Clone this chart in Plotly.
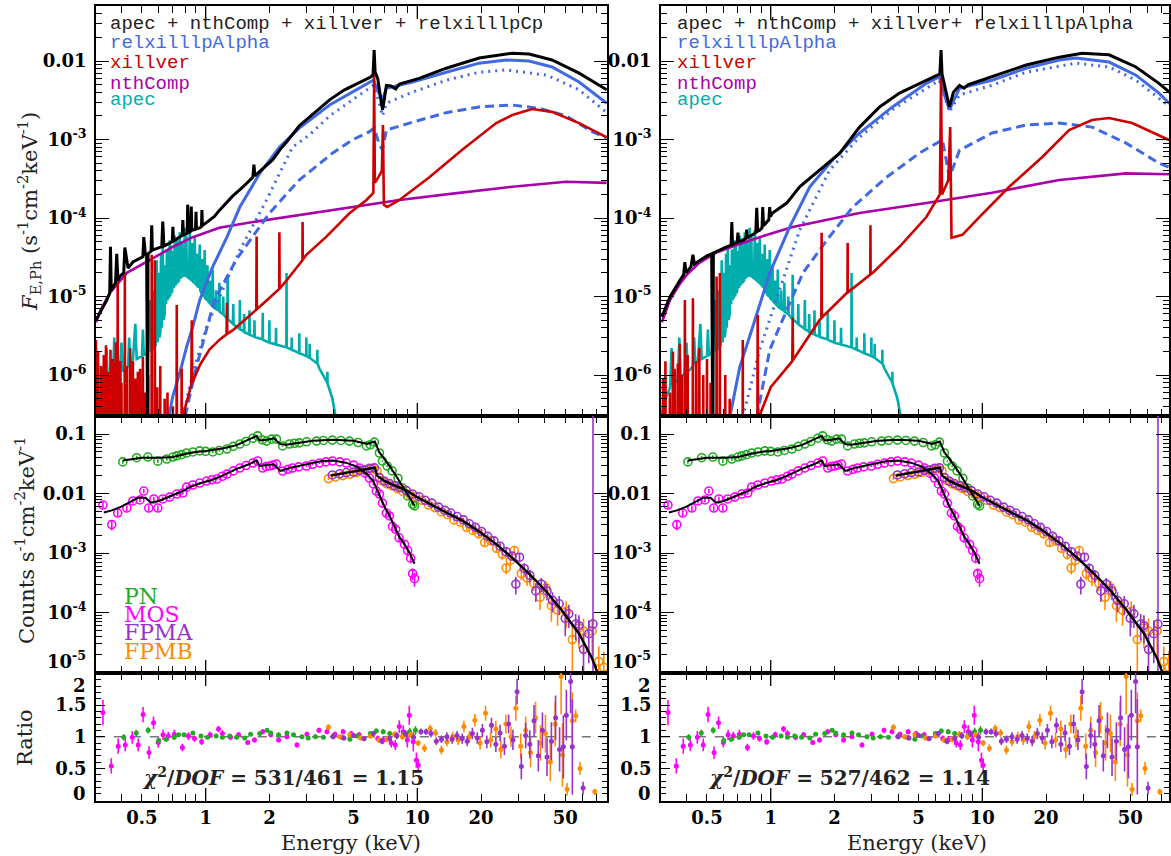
import plotly.graph_objects as go

# ------------------------------------------------------------------ data
# energies in keV, model fluxes in s^-1 cm^-2 keV^-1
apec = [(0.303, 2.9e-7), (0.32, 5.2e-7), (0.335, 7.0e-7), (0.340, 2.2e-6), (0.345, 7.5e-7), (0.364, 8.7e-7),
        (0.370, 3.0e-6), (0.375, 9.2e-7), (0.393, 1.06e-6), (0.400, 2.6e-6), (0.406, 1.1e-6), (0.430, 1.3e-6),
        (0.435, 3.0e-6), (0.440, 1.4e-6), (0.453, 1.55e-6), (0.465, 4.5e-6), (0.472, 1.6e-6), (0.50, 1.75e-6),
        (0.505, 3.8e-6), (0.51, 1.8e-6), (0.527, 1.9e-6), (0.544, 9.0e-6), (0.55, 2.0e-6), (0.56, 2.1e-6),
        (0.565, 1.2e-5), (0.57, 2.2e-6), (0.58, 2.4e-6), (0.587, 2.9e-5), (0.593, 2.6e-6), (0.60, 2.0e-5),
        (0.605, 3.0e-6), (0.611, 3.5e-6), (0.615, 3.5e-5), (0.62, 4.0e-6), (0.627, 4.2e-5), (0.633, 5.0e-6),
        (0.64, 6.0e-6), (0.645, 2.5e-5), (0.65, 8.0e-6), (0.656, 4.0e-5), (0.661, 9.0e-6), (0.665, 3.0e-5),
        (0.67, 9.5e-6), (0.676, 5.2e-5), (0.68, 1.0e-5), (0.685, 4.5e-5), (0.69, 1.1e-5), (0.695, 1.2e-5),
        (0.70, 3.8e-5), (0.705, 1.3e-5), (0.71, 1.35e-5), (0.714, 6.0e-5), (0.72, 1.4e-5), (0.725, 1.45e-5),
        (0.73, 5.5e-5), (0.735, 1.5e-5), (0.748, 1.6e-5), (0.754, 6.6e-5), (0.76, 1.7e-5), (0.765, 1.75e-5),
        (0.77, 5.0e-5), (0.775, 1.8e-5), (0.79, 1.9e-5), (0.796, 7.5e-5), (0.80, 1.85e-5), (0.805, 1.8e-5),
        (0.81, 6.0e-5), (0.815, 1.8e-5), (0.835, 1.7e-5), (0.841, 7.0e-5), (0.847, 1.65e-5), (0.86, 1.6e-5),
        (0.865, 4.8e-5), (0.87, 1.55e-5), (0.882, 1.5e-5), (0.888, 5.6e-5), (0.894, 1.45e-5), (0.905, 1.4e-5),
        (0.91, 3.5e-5), (0.915, 1.35e-5), (0.931, 1.3e-5), (0.937, 4.6e-5), (0.943, 1.2e-5), (0.955, 1.1e-5),
        (0.96, 3.0e-5), (0.965, 1.05e-5), (0.983, 1.0e-5), (0.989, 3.9e-5), (0.995, 9.5e-6), (1.015, 9.0e-6),
        (1.02, 2.5e-5), (1.025, 8.8e-6), (1.045, 8.2e-6), (1.05, 1.6e-5), (1.055, 8.0e-6), (1.075, 7.6e-6),
        (1.08, 2.2e-5), (1.085, 7.4e-6), (1.115, 7.0e-6), (1.12, 1.2e-5), (1.125, 6.9e-6), (1.155, 6.6e-6),
        (1.16, 1.5e-5), (1.165, 6.4e-6), (1.205, 6.0e-6), (1.21, 1.0e-5), (1.215, 5.9e-6), (1.265, 5.2e-6),
        (1.27, 1.9e-5), (1.275, 5.1e-6), (1.345, 4.5e-6), (1.35, 8.0e-6), (1.355, 4.4e-6), (1.445, 3.9e-6),
        (1.45, 9.0e-6), (1.455, 3.8e-6), (1.515, 3.6e-6), (1.52, 6.0e-6), (1.525, 3.5e-6), (1.605, 3.3e-6),
        (1.61, 6.7e-6), (1.615, 3.25e-6), (1.695, 3.1e-6), (1.70, 5.0e-6), (1.705, 3.05e-6), (1.855, 2.85e-6),
        (1.86, 6.2e-6), (1.865, 2.8e-6), (1.995, 2.6e-6), (2.0, 5.0e-6), (2.005, 2.6e-6), (2.145, 2.45e-6),
        (2.15, 4.0e-6), (2.155, 2.45e-6), (2.405, 2.25e-6), (2.41, 2.0e-5), (2.415, 2.25e-6), (2.545, 2.1e-6),
        (2.55, 3.0e-6), (2.555, 2.1e-6), (2.765, 1.9e-6), (2.77, 3.4e-6), (2.775, 1.9e-6), (2.985, 1.75e-6),
        (2.99, 3.0e-6), (2.995, 1.75e-6), (3.095, 1.65e-6), (3.1, 2.5e-6), (3.105, 1.65e-6), (3.365, 1.4e-6),
        (3.37, 2.1e-6), (3.375, 1.4e-6), (3.45, 1.2e-6), (3.70, 8.5e-7), (3.755, 8.0e-7), (3.76, 1.1e-6),
        (3.765, 7.8e-7), (3.97, 5.0e-7), (4.14, 2.9e-7), (4.3, 1.5e-7)]

black_left = [(0.303, 5.0e-6), (0.32, 6.5e-6), (0.341, 9.0e-6), (0.352, 1.1e-5), (0.355, 4.3e-5), (0.358, 1.2e-5),
              (0.375, 1.5e-5), (0.38, 3.5e-5), (0.385, 1.6e-5), (0.393, 1.8e-5), (0.41, 2.0e-5), (0.415, 4.2e-5),
              (0.43, 2.3e-5), (0.453, 2.75e-5), (0.489, 3.1e-5), (0.505, 3.2e-5), (0.51, 5.7e-5), (0.52, 3.3e-5),
              (0.526, 3.4e-5), (0.528, 1e-7), (0.532, 1e-7), (0.534, 3.5e-5), (0.544, 3.7e-5), (0.552, 3.8e-5),
              (0.556, 8.1e-5), (0.56, 3.9e-5), (0.59, 4.1e-5), (0.62, 4.3e-5), (0.627, 9.0e-5), (0.635, 4.4e-5),
              (0.676, 4.8e-5), (0.695, 5.0e-5), (0.70, 7.7e-5), (0.705, 5.1e-5), (0.75, 5.7e-5), (0.775, 6.0e-5),
              (0.78, 9.4e-5), (0.785, 6.1e-5), (0.81, 6.3e-5), (0.818, 6.4e-5), (0.822, 1.48e-4), (0.83, 6.5e-5),
              (0.85, 6.8e-5), (0.855, 1.4e-4), (0.86, 7.0e-5), (0.87, 7.1e-5), (0.895, 7.2e-5), (0.90, 1.2e-4),
              (0.905, 7.3e-5), (0.937, 7.5e-5), (0.955, 7.8e-5), (0.96, 1.26e-4), (0.965, 8.0e-5), (1.0, 8.6e-5),
              (1.04, 9.4e-5), (1.1, 1.05e-4), (1.16, 1.25e-4), (1.25, 1.55e-4), (1.34, 1.9e-4), (1.5, 2.5e-4),
              (1.67, 3.3e-4), (1.69, 4.8e-4), (1.71, 3.45e-4), (1.85, 4.2e-4), (2.07, 5.5e-4), (2.25, 7.5e-4),
              (2.41, 9.3e-4), (2.77, 1.5e-3), (3.26, 2.2e-3), (3.85, 3.2e-3), (4.53, 4.3e-3), (5.33, 5.4e-3),
              (6.05, 6.3e-3), (6.18, 6.8e-3), (6.25, 1.38e-2), (6.32, 7.2e-3), (6.5, 6.0e-3), (6.75, 3.0e-3),
              (6.85, 2.4e-3), (7.0, 3.4e-3), (7.14, 4.9e-3), (7.5, 4.8e-3), (7.9, 4.4e-3), (8.23, 5.1e-3),
              (10.2, 6.0e-3), (13.7, 8.1e-3), (19.6, 1.09e-2), (28.1, 1.26e-2), (33.7, 1.23e-2), (43.3, 1.03e-2),
              (58.1, 7.0e-3), (78.5, 4.3e-3)]

red_left = [(0.302, 1e-7), (0.303, 2.8e-6), (0.304, 1e-7), (0.309, 1e-7), (0.31, 2.0e-6), (0.311, 1e-7),
            (0.319, 1e-7), (0.32, 1.3e-6), (0.321, 1e-7), (0.324, 1e-7), (0.325, 1.2e-6), (0.326, 1e-7),
            (0.329, 1e-7), (0.33, 1.8e-6), (0.331, 1e-7), (0.337, 1e-7), (0.338, 2.4e-6), (0.339, 1e-7),
            (0.344, 1e-7), (0.345, 1.1e-6), (0.346, 1e-7), (0.354, 1e-7), (0.355, 2.1e-6), (0.356, 1e-7),
            (0.363, 1e-7), (0.364, 1.6e-6), (0.365, 1e-7), (0.369, 1e-7), (0.37, 1.4e-6), (0.371, 1e-7),
            (0.375, 1e-7), (0.376, 2.6e-6), (0.377, 1e-7), (0.383, 1e-7), (0.384, 2.0e-5), (0.385, 1e-7),
            (0.394, 1e-7), (0.395, 1.5e-6), (0.396, 1e-7), (0.399, 1e-7), (0.40, 8e-7), (0.401, 1e-7),
            (0.414, 1e-7), (0.415, 2.0e-5), (0.416, 1e-7), (0.424, 1e-7), (0.425, 1.3e-6), (0.426, 1e-7),
            (0.439, 1e-7), (0.44, 2.2e-6), (0.441, 1e-7), (0.452, 1e-7), (0.453, 1.5e-6), (0.454, 1e-7),
            (0.464, 1e-7), (0.465, 9e-7), (0.466, 1e-7), (0.477, 1e-7), (0.478, 1.1e-6), (0.479, 1e-7),
            (0.489, 1e-7), (0.49, 1.2e-6), (0.491, 1e-7), (0.504, 1e-7), (0.505, 1.7e-6), (0.506, 1e-7),
            (0.519, 1e-7), (0.52, 6e-7), (0.521, 1e-7), (0.534, 1e-7), (0.535, 1.0e-6), (0.536, 1e-7),
            (0.555, 1e-7), (0.556, 3.4e-5), (0.557, 1e-7), (0.574, 1e-7), (0.575, 2.9e-5), (0.576, 1e-7),
            (0.589, 1e-7), (0.59, 7e-7), (0.591, 1e-7), (0.609, 1e-7), (0.61, 1.3e-6), (0.611, 1e-7),
            (0.639, 1e-7), (0.64, 5e-7), (0.641, 1e-7), (0.659, 1e-7), (0.66, 6e-7), (0.661, 1e-7),
            (0.699, 1e-7), (0.70, 4e-7), (0.701, 1e-7), (0.728, 1e-7), (0.73, 7.8e-6), (0.732, 1e-7),
            (0.768, 1e-7), (0.77, 1.2e-6), (0.772, 1e-7), (0.78, 3.0e-7), (0.84, 6.5e-7), (0.855, 7.5e-7),
            (0.86, 5.0e-6), (0.865, 8e-7), (0.94, 1.35e-6), (1.04, 2.1e-6), (1.16, 2.8e-6), (1.255, 3.3e-6),
            (1.26, 8.3e-6), (1.265, 3.35e-6), (1.34, 3.7e-6), (1.67, 6.2e-6), (1.735, 6.8e-6), (1.74, 5.8e-5),
            (1.745, 6.9e-6), (1.94, 8.9e-6), (2.225, 1.25e-5), (2.23, 6.6e-5), (2.235, 1.26e-5), (2.41, 1.6e-5),
            (2.865, 2.9e-5), (2.87, 8.9e-5), (2.875, 2.95e-5), (2.99, 3.4e-5), (3.72, 5.8e-5), (4.78, 1.15e-4),
            (5.75, 1.7e-4), (6.1, 2.0e-4), (6.2, 2.1e-4), (6.25, 6.6e-3), (6.3, 2.8e-4), (6.5, 3.2e-4),
            (6.8, 4.0e-4), (6.88, 1.53e-3), (6.95, 1.47e-4), (7.2, 1.38e-4), (8.23, 1.7e-4), (11.4, 3.3e-4),
            (16.3, 7.4e-4), (23.6, 1.62e-3), (28.1, 2.05e-3), (34.9, 2.45e-3), (43.3, 2.25e-3), (58.1, 1.62e-3),
            (78.5, 1.07e-3)]

nthcomp_left = [(0.303, 4.7e-6), (0.32, 6.8e-6), (0.352, 1.1e-5), (0.424, 2.0e-5), (0.544, 2.9e-5), (0.699, 4.3e-5),
                (0.869, 5.7e-5), (1.16, 7.5e-5), (1.67, 8.9e-5), (2.77, 1.1e-4), (4.78, 1.38e-4), (8.23, 1.7e-4),
                (13.7, 2.0e-4), (28.1, 2.5e-4), (50.5, 2.9e-4), (78.5, 2.8e-4)]

relx_left = [(0.66, 2.5e-7), (0.70, 5.4e-7), (0.754, 1.06e-6), (0.813, 2.3e-6), (0.869, 4.1e-6), (0.937, 9.0e-6),
             (1.08, 2.4e-5), (1.26, 5.7e-5), (1.45, 1.38e-4), (1.80, 3.7e-4), (2.23, 8.0e-4), (2.77, 1.4e-3),
             (3.85, 2.75e-3), (5.33, 4.5e-3), (6.2, 5.7e-3), (6.5, 4.2e-3), (6.84, 3.2e-3), (7.14, 4.5e-3),
             (8.23, 4.9e-3), (9.47, 5.4e-3), (13.7, 7.2e-3), (19.6, 9.4e-3), (26.3, 1.03e-2), (33.7, 1.0e-2),
             (43.3, 8.4e-3), (58.1, 5.4e-3), (78.5, 2.9e-3)]

relx_dot_left = [(0.78, 3e-7), (0.87, 1.06e-6), (1.01, 4.1e-6), (1.26, 1.6e-5), (1.45, 3.9e-5), (1.94, 1.7e-4),
                 (2.57, 8.0e-4), (3.1, 1.15e-3), (3.85, 2.0e-3), (5.33, 3.7e-3), (6.2, 4.9e-3), (6.55, 3.2e-3),
                 (6.84, 2.0e-3), (7.14, 2.9e-3), (8.23, 3.4e-3), (9.47, 4.0e-3), (13.7, 5.7e-3), (19.6, 7.2e-3),
                 (26.3, 7.7e-3), (41.0, 6.6e-3), (58.1, 4.3e-3), (78.5, 2.2e-3)]

relx_dash_left = [(0.80, 3e-7), (0.90, 1.2e-6), (1.0, 3.5e-6), (1.1, 9.0e-6), (1.4, 3.0e-5), (2.0, 1.15e-4),
                  (2.75, 3.0e-4), (3.97, 6.7e-4), (4.94, 9.9e-4), (5.94, 1.26e-3), (6.25, 1.4e-3), (6.62, 8.5e-4),
                  (6.84, 7.4e-4), (7.14, 1.32e-3), (9.47, 1.66e-3), (13.7, 2.2e-3), (19.6, 2.6e-3), (28.1, 2.75e-3),
                  (37.6, 2.5e-3), (50.5, 2.0e-3), (66.9, 1.26e-3), (78.5, 1.05e-3)]

black_right = [(0.306, 5.5e-6), (0.334, 9.9e-6), (0.372, 1.6e-5), (0.388, 1.9e-5), (0.393, 2.75e-5), (0.398, 2.0e-5),
               (0.42, 2.4e-5), (0.429, 3.4e-5), (0.436, 2.6e-5), (0.462, 2.9e-5), (0.50, 3.3e-5), (0.526, 3.5e-5),
               (0.529, 1e-7), (0.533, 1e-7), (0.536, 3.6e-5), (0.57, 3.9e-5), (0.619, 4.3e-5), (0.65, 4.5e-5),
               (0.655, 8.9e-5), (0.66, 4.6e-5), (0.695, 4.9e-5), (0.70, 6.5e-5), (0.705, 5.0e-5), (0.738, 5.2e-5),
               (0.765, 5.5e-5), (0.77, 7.1e-5), (0.775, 5.6e-5), (0.85, 6.5e-5), (0.859, 1.35e-4), (0.868, 6.8e-5),
               (0.887, 7.0e-5), (0.91, 7.5e-5), (0.917, 1.38e-4), (0.925, 8.0e-5), (0.98, 9.5e-5), (0.989, 1.38e-4),
               (0.998, 1.05e-4), (1.02, 1.16e-4), (1.19, 1.55e-4), (1.37, 2.5e-4), (1.70, 4.1e-4), (2.12, 6.7e-4),
               (2.63, 1.44e-3), (3.27, 2.6e-3), (4.06, 3.9e-3), (5.04, 5.2e-3), (6.13, 6.6e-3), (6.3, 6.8e-3),
               (6.38, 1.38e-2), (6.45, 6.8e-3), (6.99, 2.6e-3), (7.3, 4.0e-3), (7.8, 4.9e-3), (8.2, 4.5e-3),
               (8.6, 5.0e-3), (9.37, 5.4e-3), (11.1, 6.3e-3), (16.1, 8.9e-3), (23.1, 1.12e-2), (29.6, 1.26e-2),
               (39.7, 1.2e-2), (53.2, 8.4e-3), (68.3, 5.2e-3), (78.5, 3.8e-3)]

red_right = [(0.309, 1e-7), (0.31, 9e-7), (0.311, 1e-7), (0.317, 1e-7), (0.318, 1.5e-6), (0.319, 1e-7),
             (0.333, 1e-7), (0.334, 6e-7), (0.335, 1e-7), (0.344, 1e-7), (0.345, 2.0e-6), (0.346, 1e-7),
             (0.351, 1e-7), (0.352, 1.2e-6), (0.353, 1e-7), (0.363, 1e-7), (0.364, 1.4e-6), (0.365, 1e-7),
             (0.371, 1e-7), (0.372, 2.5e-6), (0.373, 1e-7), (0.379, 1e-7), (0.38, 1.0e-6), (0.381, 1e-7),
             (0.392, 1e-7), (0.393, 9e-6), (0.394, 1e-7), (0.404, 1e-7), (0.405, 1.8e-6), (0.406, 1e-7),
             (0.428, 1e-7), (0.429, 9.5e-6), (0.430, 1e-7), (0.444, 1e-7), (0.445, 1.5e-6), (0.446, 1e-7),
             (0.459, 1e-7), (0.46, 2.2e-6), (0.461, 1e-7), (0.479, 1e-7), (0.48, 1.0e-6), (0.481, 1e-7),
             (0.499, 1e-7), (0.50, 1.6e-6), (0.501, 1e-7), (0.519, 1e-7), (0.52, 8e-7), (0.521, 1e-7),
             (0.554, 1e-7), (0.555, 1.8e-5), (0.556, 1e-7), (0.574, 1e-7), (0.575, 2.0e-5), (0.576, 1e-7),
             (0.609, 1e-7), (0.61, 1.0e-6), (0.611, 1e-7), (0.639, 1e-7), (0.64, 5e-7), (0.641, 1e-7),
             (0.737, 1e-7), (0.738, 2.8e-6), (0.739, 1e-7), (0.85, 2.0e-7), (0.865, 2.6e-7), (0.868, 5.8e-6),
             (0.871, 2.7e-7), (1.0, 7e-7), (1.265, 1.5e-6), (1.27, 5.4e-6), (1.275, 1.55e-6), (1.70, 5.0e-6),
             (1.735, 5.3e-6), (1.74, 6.5e-5), (1.745, 5.4e-6), (2.28, 1.1e-5), (2.305, 1.12e-5), (2.31, 4.8e-5),
             (2.315, 1.13e-5), (2.955, 1.9e-5), (2.96, 8.1e-5), (2.965, 1.92e-5), (3.03, 2.0e-5), (4.06, 4.3e-5),
             (5.44, 1.03e-4), (5.94, 1.55e-4), (6.3, 2.0e-4), (6.38, 6.1e-3), (6.45, 2.0e-4), (6.9, 3.0e-4),
             (7.05, 1.44e-3), (7.15, 5.6e-5), (8.05, 6.1e-5), (9.68, 1.03e-4), (13.4, 2.5e-4), (19.2, 6.0e-4),
             (25.7, 1.32e-3), (33.0, 1.77e-3), (39.7, 1.88e-3), (51.0, 1.62e-3), (78.5, 9.5e-4)]

nthcomp_right = [(0.306, 4.7e-6), (0.334, 9.0e-6), (0.372, 1.45e-5), (0.402, 1.9e-5), (0.462, 2.7e-5), (0.55, 3.6e-5),
                 (0.70, 4.6e-5), (0.887, 5.7e-5), (1.27, 7.7e-5), (2.63, 1.16e-4), (5.44, 1.55e-4), (11.1, 2.1e-4),
                 (23.1, 3.05e-4), (47.8, 3.7e-4), (78.5, 3.6e-4)]

relx_right = [(0.641, 2.9e-7), (0.714, 1.26e-6), (0.822, 4.1e-6), (0.99, 2.0e-5), (1.23, 7.7e-5), (1.53, 2.5e-4),
              (1.96, 5.5e-4), (2.63, 1.21e-3), (3.76, 2.6e-3), (5.44, 5.2e-3), (6.27, 6.3e-3), (6.6, 3.8e-3),
              (6.99, 2.4e-3), (7.8, 4.5e-3), (11.1, 5.7e-3), (16.1, 8.1e-3), (23.1, 1.03e-2), (27.7, 1.09e-2),
              (39.7, 9.7e-3), (53.2, 6.6e-3), (68.3, 3.9e-3), (78.5, 2.7e-3)]

relx_dot_right = [(0.738, 2.9e-7), (0.887, 2.1e-6), (1.10, 1.2e-5), (1.37, 7.0e-5), (1.90, 4.1e-4), (2.63, 1.07e-3),
                  (3.76, 2.4e-3), (5.44, 4.5e-3), (6.27, 5.7e-3), (6.99, 2.25e-3), (7.8, 3.7e-3), (11.1, 4.9e-3),
                  (16.1, 7.2e-3), (27.7, 9.4e-3), (39.7, 8.4e-3), (53.2, 5.7e-3), (78.5, 2.5e-3)]

relx_dash_right = [(0.859, 2.9e-7), (0.99, 2.1e-6), (1.19, 6.7e-6), (1.42, 2.0e-5), (1.84, 5.2e-5), (2.44, 1.38e-4),
                   (3.52, 3.3e-4), (5.04, 6.7e-4), (6.48, 9.9e-4), (6.99, 3.3e-4), (7.8, 7.3e-4), (11.1, 1.21e-3),
                   (16.1, 1.53e-3), (23.1, 1.62e-3), (33.0, 1.44e-3), (47.8, 9.0e-4), (68.3, 5.0e-4), (78.5, 4.3e-4)]

# counts spectra: (E, counts s^-1 cm^-2 keV^-1, error)
pn_counts = [(0.406, 0.034, 0.0025), (0.472, 0.040, 0.003), (0.533, 0.041, 0.003), (0.594, 0.035, 0.0025),
             (0.655, 0.038, 0.0025), (0.70, 0.041, 0.002), (0.73, 0.043, 0.002), (0.77, 0.045, 0.002),
             (0.813, 0.048, 0.002), (0.87, 0.050, 0.002), (0.937, 0.052, 0.002), (1.0, 0.051, 0.002),
             (1.08, 0.050, 0.002), (1.16, 0.053, 0.002), (1.26, 0.056, 0.002), (1.35, 0.062, 0.002),
             (1.45, 0.068, 0.002), (1.55, 0.075, 0.002), (1.67, 0.085, 0.002), (1.76, 0.093, 0.002),
             (1.85, 0.080, 0.002), (1.94, 0.076, 0.002), (2.05, 0.082, 0.002), (2.16, 0.082, 0.002),
             (2.31, 0.063, 0.002), (2.49, 0.068, 0.002), (2.63, 0.070, 0.002), (2.77, 0.071, 0.002),
             (3.0, 0.074, 0.002), (3.34, 0.076, 0.002), (3.6, 0.078, 0.002), (3.97, 0.079, 0.002),
             (4.35, 0.078, 0.002), (4.78, 0.076, 0.002), (5.25, 0.072, 0.002), (5.75, 0.063, 0.002),
             (6.0, 0.066, 0.002), (6.27, 0.073, 0.002), (6.62, 0.048, 0.0015), (6.84, 0.035, 0.0012),
             (7.2, 0.029, 0.001), (7.6, 0.024, 0.001), (8.1, 0.018, 0.0008), (8.5, 0.0124, 0.0006),
             (9.0, 0.0091, 0.0005), (9.5, 0.0066, 0.0004), (9.7, 0.0062, 0.0004)]

mos_counts = [(0.327, 0.0064, 0.0008), (0.36, 0.0030, 0.0006), (0.384, 0.0047, 0.0006), (0.424, 0.0057, 0.0006),
              (0.453, 0.0075, 0.0007), (0.489, 0.0078, 0.0007), (0.51, 0.011, 0.0009), (0.538, 0.0057, 0.0006),
              (0.569, 0.0081, 0.0007), (0.594, 0.0057, 0.0006), (0.627, 0.0081, 0.0007), (0.676, 0.0087, 0.0007),
              (0.73, 0.0098, 0.0007), (0.779, 0.0102, 0.0007), (0.813, 0.0128, 0.0008), (0.869, 0.0139, 0.0008),
              (0.937, 0.0150, 0.0008), (1.01, 0.0162, 0.0008), (1.07, 0.0170, 0.0008), (1.13, 0.0175, 0.0008),
              (1.20, 0.0195, 0.0009), (1.26, 0.0212, 0.0009), (1.35, 0.0240, 0.001), (1.45, 0.0268, 0.001),
              (1.55, 0.0295, 0.001), (1.67, 0.0325, 0.001), (1.76, 0.0352, 0.0012), (1.86, 0.0268, 0.001),
              (1.93, 0.0285, 0.001), (2.0, 0.029, 0.001), (2.08, 0.030, 0.001), (2.16, 0.0313, 0.001),
              (2.31, 0.0239, 0.001), (2.45, 0.0255, 0.001), (2.57, 0.0268, 0.001), (2.75, 0.028, 0.001),
              (2.99, 0.029, 0.001), (3.2, 0.031, 0.001), (3.45, 0.0325, 0.0012), (3.7, 0.034, 0.0012),
              (3.97, 0.0352, 0.0012), (4.3, 0.034, 0.0012), (4.62, 0.0325, 0.0012), (5.0, 0.030, 0.0012),
              (5.33, 0.0268, 0.0012), (5.65, 0.022, 0.001), (5.94, 0.0182, 0.001), (6.2, 0.0145, 0.0009),
              (6.4, 0.011, 0.0008), (6.62, 0.0098, 0.0007), (6.84, 0.0069, 0.0006), (7.14, 0.0047, 0.0005),
              (7.38, 0.0042, 0.0004), (7.63, 0.0028, 0.0003), (7.9, 0.0025, 0.0003), (8.2, 0.0018, 0.0003),
              (8.7, 0.0014, 0.0002), (9.0, 0.0011, 0.0002), (9.3, 0.00082, 0.00015), (9.5, 0.00045, 0.0001),
              (9.7, 0.00037, 0.0001)]

fpma_counts = [(3.97, 0.0205, 0.001), (4.3, 0.0215, 0.001), (4.62, 0.0225, 0.001), (5.0, 0.023, 0.001),
               (5.33, 0.0245, 0.001), (5.64, 0.025, 0.001), (5.94, 0.0265, 0.0012), (6.27, 0.027, 0.0012),
               (6.62, 0.0185, 0.001), (7.0, 0.016, 0.0009), (7.38, 0.0147, 0.0008), (7.8, 0.0135, 0.0008),
               (8.23, 0.0126, 0.0007), (8.87, 0.0112, 0.0006), (9.5, 0.0098, 0.0006), (10.2, 0.0088, 0.0005),
               (10.9, 0.0077, 0.0005), (11.7, 0.0069, 0.0004), (12.6, 0.0059, 0.0004), (13.5, 0.0052, 0.0004),
               (14.4, 0.0047, 0.0004), (15.4, 0.0041, 0.0003), (16.5, 0.0036, 0.0003), (17.6, 0.0031, 0.0003),
               (18.8, 0.0027, 0.0003), (20.1, 0.0023, 0.00025), (21.5, 0.0019, 0.0002), (23.0, 0.0016, 0.0002),
               (24.6, 0.0013, 0.0002), (26.3, 0.00105, 0.00018), (28.0, 0.00089, 0.00015), (29.2, 0.00030, 0.0001),
               (30.4, 0.00085, 0.00015), (32.0, 0.00055, 0.00012), (34.0, 0.00042, 0.0001), (36.3, 0.00023, 0.00008),
               (38.5, 0.00030, 0.00008), (41.0, 0.00023, 0.00007), (43.5, 0.00016, 0.00006), (46.8, 0.00014, 0.00005),
               (50.0, 8.0e-5, 0.00004), (52.0, 9.5e-5, 0.00004), (56.0, 6.4e-5, 0.00003), (58.0, 6.0e-5, 0.00003),
               (61.0, 2.4e-5, 0.00002), (64.6, 4.4e-5, 0.00003), (67.6, 6.4e-5, 1.0)]

fpmb_counts = [(3.8, 0.0178, 0.001), (4.1, 0.019, 0.001), (4.45, 0.020, 0.001), (4.8, 0.021, 0.001),
               (5.15, 0.0225, 0.001), (5.5, 0.0235, 0.001), (5.8, 0.025, 0.0012), (6.1, 0.0262, 0.0012),
               (6.45, 0.024, 0.0012), (6.8, 0.0165, 0.001), (7.2, 0.0145, 0.0009), (7.6, 0.0135, 0.0008),
               (8.05, 0.0121, 0.0007), (8.55, 0.0108, 0.0006), (9.2, 0.0097, 0.0006), (9.8, 0.0089, 0.0005),
               (10.5, 0.0077, 0.0005), (11.3, 0.0064, 0.0004), (12.1, 0.0058, 0.0004), (13.0, 0.0049, 0.0004),
               (13.9, 0.0044, 0.0004), (14.9, 0.0036, 0.0003), (16.0, 0.0033, 0.0003), (17.1, 0.0027, 0.0003),
               (18.3, 0.0024, 0.0003), (19.5, 0.0021, 0.00025), (20.8, 0.0015, 0.0002), (22.2, 0.0016, 0.0002),
               (23.7, 0.0012, 0.0002), (25.2, 0.00095, 0.00018), (26.3, 0.00056, 0.00012), (27.5, 0.00075, 0.00015),
               (28.7, 0.0011, 0.0002), (31.0, 0.00045, 0.0001), (33.0, 0.00038, 0.0001), (35.5, 0.00031, 0.00008),
               (38.0, 0.00018, 0.00007), (40.5, 0.00026, 0.00008), (43.0, 0.00013, 0.00006), (46.0, 0.00011, 0.00005),
               (50.5, 0.000105, 0.00005), (54.0, 3.5e-5, 0.00003), (58.0, 5.5e-5, 0.00003), (61.0, 4.9e-5, 0.00003),
               (67.0, 4.9e-5, 0.00003), (72.0, 1.5e-5, 0.000012), (76.0, 1.2e-5, 0.00001)]

pn_model = [(0.406, 0.036), (0.45, 0.038), (0.50, 0.040), (0.60, 0.040), (0.70, 0.041), (0.80, 0.046), (0.90, 0.050),
            (1.0, 0.052), (1.2, 0.057), (1.4, 0.065), (1.6, 0.080), (1.74, 0.093), (1.80, 0.078), (1.95, 0.080),
            (2.10, 0.085), (2.25, 0.068), (2.4, 0.066), (2.7, 0.071), (3.2, 0.077), (4.0, 0.080), (5.0, 0.077),
            (5.8, 0.068), (6.3, 0.075), (6.6, 0.050), (7.0, 0.038), (7.5, 0.027), (8.0, 0.019), (8.5, 0.013),
            (9.0, 0.0095), (9.7, 0.0063)]

mos_model = [(0.33, 0.0048), (0.36, 0.0052), (0.40, 0.0060), (0.45, 0.0075), (0.48, 0.0085), (0.52, 0.0085),
             (0.55, 0.0070), (0.60, 0.0075), (0.65, 0.0085), (0.70, 0.0095), (0.78, 0.011), (0.85, 0.013),
             (0.95, 0.0150), (1.05, 0.0165), (1.2, 0.020), (1.4, 0.026), (1.6, 0.031), (1.74, 0.036), (1.80, 0.029),
             (1.95, 0.030), (2.10, 0.031), (2.25, 0.024), (2.5, 0.027), (3.0, 0.031), (3.5, 0.035), (4.0, 0.036),
             (4.6, 0.033), (5.2, 0.028), (5.8, 0.021), (6.2, 0.016), (6.6, 0.0098), (7.0, 0.0060), (7.4, 0.0042),
             (7.8, 0.0027), (8.2, 0.0019), (8.7, 0.0014), (9.2, 0.0010), (9.7, 0.00066)]

fpm_model = [(3.9, 0.0200), (4.5, 0.0220), (5.0, 0.0235), (5.5, 0.0250), (6.0, 0.0262), (6.3, 0.0272), (6.45, 0.0200),
             (7.0, 0.0163), (7.5, 0.0145), (8.2, 0.0127), (9.0, 0.0110), (9.9, 0.0088), (11.4, 0.0067), (13.7, 0.0048),
             (16.3, 0.0035), (19.6, 0.0023), (23.6, 0.00141), (28.1, 0.00083), (33.7, 0.00045), (40.5, 0.00023),
             (48.3, 0.000107), (58.1, 4.4e-5), (66.9, 1.7e-5), (72.0, 8.5e-6)]

# data/model ratios: (E, ratio, error)
pn_ratio = [(0.41, 0.99, 0.05), (0.47, 1.06, 0.05), (0.535, 1.1, 0.05), (0.60, 0.94, 0.04), (0.65, 0.96, 0.04),
            (0.71, 0.99, 0.04), (0.745, 1.03, 0.03), (0.79, 1.03, 0.03), (0.87, 1.06, 0.03), (0.95, 1.01, 0.03),
            (1.02, 0.99, 0.03), (1.12, 1.01, 0.03), (1.20, 0.99, 0.03), (1.30, 1.01, 0.03), (1.40, 0.99, 0.03),
            (1.53, 0.98, 0.03), (1.63, 1.04, 0.03), (1.80, 1.05, 0.03), (1.95, 1.1, 0.03), (2.03, 1.06, 0.03),
            (2.21, 1.03, 0.03), (2.42, 1.06, 0.03), (2.60, 1.03, 0.03), (2.85, 1.0, 0.03), (3.05, 0.98, 0.03),
            (3.30, 1.0, 0.03), (3.60, 0.99, 0.03), (4.0, 1.01, 0.03), (4.4, 0.99, 0.03), (4.8, 0.96, 0.03),
            (5.2, 1.01, 0.03), (5.6, 0.97, 0.03), (6.0, 1.05, 0.03), (6.4, 1.09, 0.04), (6.9, 1.08, 0.04),
            (7.4, 1.05, 0.04), (8.0, 1.01, 0.05), (8.6, 1.03, 0.05), (9.2, 1.08, 0.06), (9.8, 1.1, 0.07)]

mos_ratio = [(0.327, 1.38, 0.2), (0.358, 0.54, 0.12), (0.386, 0.85, 0.12), (0.417, 0.87, 0.1), (0.450, 0.99, 0.1),
             (0.480, 0.87, 0.1), (0.506, 1.35, 0.12), (0.540, 0.75, 0.1), (0.567, 1.22, 0.1), (0.597, 0.91, 0.08),
             (0.629, 1.03, 0.08), (0.666, 1.01, 0.07), (0.711, 1.04, 0.07), (0.776, 0.83, 0.06), (0.829, 1.01, 0.06),
             (0.885, 0.97, 0.05), (0.957, 0.92, 0.05), (1.05, 1.03, 0.05), (1.15, 1.12, 0.05), (1.20, 1.05, 0.05),
             (1.31, 0.99, 0.04), (1.43, 1.03, 0.04), (1.58, 0.91, 0.04), (1.70, 0.95, 0.04), (1.86, 1.08, 0.04),
             (2.03, 1.03, 0.04), (2.21, 0.95, 0.04), (2.42, 1.0, 0.04), (2.70, 0.87, 0.04), (3.01, 1.04, 0.04),
             (3.43, 1.1, 0.04), (3.74, 1.08, 0.04), (4.08, 1.04, 0.04), (4.46, 1.08, 0.04), (4.86, 1.05, 0.04),
             (5.31, 1.03, 0.04), (6.05, 1.03, 0.05), (6.50, 0.97, 0.05), (6.90, 0.95, 0.06), (7.53, 0.90, 0.07),
             (7.87, 0.87, 0.08), (8.22, 1.16, 0.1), (8.58, 1.08, 0.1), (8.97, 0.95, 0.12), (9.16, 1.34, 0.15),
             (9.57, 0.92, 0.15), (9.9, 0.63, 0.12), (10.1, 0.55, 0.1)]

fpma_ratio = [(4.0, 1.0, 0.04), (4.5, 0.98, 0.04), (5.0, 1.02, 0.04), (5.6, 0.97, 0.04), (6.2, 1.05, 0.04),
              (6.8, 0.93, 0.05), (7.4, 0.97, 0.05), (8.0, 1.02, 0.05), (8.8, 1.05, 0.05), (9.6, 0.99, 0.05),
              (10.4, 1.08, 0.05), (11.0, 1.08, 0.05), (11.6, 1.05, 0.06), (12.3, 0.93, 0.06), (13.0, 0.96, 0.06),
              (13.8, 1.0, 0.07), (14.6, 0.96, 0.07), (15.4, 1.02, 0.07), (16.3, 0.97, 0.08), (17.2, 0.93, 0.08),
              (18.2, 1.05, 0.09), (19.2, 0.98, 0.09), (20.3, 1.1, 0.1), (21.3, 0.92, 0.1), (22.4, 1.18, 0.12),
              (23.5, 0.88, 0.12), (24.6, 1.06, 0.13), (25.8, 0.85, 0.14), (27.0, 1.2, 0.15), (28.3, 0.95, 0.16),
              (29.6, 1.71, 0.2), (31.0, 0.53, 0.2), (32.5, 1.02, 0.2), (34.0, 0.88, 0.22), (35.6, 1.25, 0.25),
              (37.3, 0.7, 0.25), (39.0, 1.1, 0.28), (41.0, 0.68, 0.3), (43.0, 0.93, 0.3), (45.0, 1.3, 0.35),
              (47.0, 0.8, 0.35), (49.0, 0.84, 0.5), (50.6, 1.34, 0.4), (53.0, 1.87, 0.5), (54.0, 0.84, 0.75),
              (60.7, 0.19, 0.1)]

fpmb_ratio = [(3.8, 1.15, 0.05), (4.3, 1.0, 0.04), (4.8, 1.03, 0.04), (5.4, 0.98, 0.04), (6.0, 1.01, 0.04),
              (6.6, 0.95, 0.05), (7.2, 0.96, 0.05), (7.8, 1.04, 0.05), (8.5, 1.0, 0.05), (9.3, 1.03, 0.05),
              (10.1, 0.9, 0.05), (10.8, 0.82, 0.06), (11.5, 1.13, 0.06), (12.2, 1.06, 0.06), (13.0, 0.79, 0.07),
              (13.8, 0.92, 0.07), (14.7, 1.0, 0.08), (15.6, 0.95, 0.08), (16.6, 1.16, 0.09), (17.6, 1.0, 0.09),
              (18.7, 1.26, 0.1), (19.8, 0.9, 0.1), (21.0, 1.37, 0.12), (22.2, 0.95, 0.12), (23.5, 1.12, 0.13),
              (24.8, 0.8, 0.14), (26.2, 1.2, 0.15), (27.7, 1.0, 0.16), (29.2, 1.45, 0.2), (30.8, 0.85, 0.2),
              (32.5, 1.1, 0.22), (34.3, 0.75, 0.23), (36.2, 1.3, 0.25), (38.2, 0.9, 0.28), (40.3, 1.05, 0.3),
              (42.5, 0.6, 0.3), (44.8, 1.2, 0.35), (47.8, 1.95, 0.6), (48.5, 0.71, 0.5), (51.0, 0.17, 0.1),
              (54.0, 1.25, 0.45), (56.0, 1.33, 0.1), (58.7, 0.5, 0.1), (69.0, 0.13, 0.05)]

x_tick_vals = [0.5, 1, 2, 5, 10, 20, 50]
x_tick_text = ["0.5", "1", "2", "5", "10", "20", "50"]
top_tick_vals = [1e-6, 1e-5, 1e-4, 1e-3, 1e-2]
top_tick_text = ["10<sup>-6</sup>", "10<sup>-5</sup>", "10<sup>-4</sup>", "10<sup>-3</sup>", "0.01"]
mid_tick_vals = [1e-4, 1e-3, 1e-2, 1e-1]
mid_tick_text = ["10<sup>-4</sup>", "10<sup>-3</sup>", "0.01", "0.1"]
ratio_tick_vals = [0.5, 1, 1.5]
ratio_tick_text = ["0.5", "1", "1.5"]

# ------------------------------------------------------------------ style
SERIF = "DejaVu Serif"
MONO = "Liberation Mono"
C_BLUE = "#4169E1"
C_RED = "#CC0000"
C_NTH = "#AA00AA"
C_APEC = "#00ADAD"
C_PN = "#22AA22"
C_MOS = "#FF00FF"
C_FPMA = "#9932CC"
C_FPMB = "#FF8C00"

W, H = 1171, 856
def fx(p): return p / W
def fy(p): return 1 - p / H

COLS = {"L": (96, 608), "R": (662, 1171)}
ROWS = {"top": (6, 416), "mid": (416, 673), "bot": (673, 801)}
XR = {"L": [-0.519, 1.896], "R": [-0.519, 1.882]}

fig = go.Figure()

def col(data, i):
    return [p[i] for p in data]

def add_line(data, ax, color, width, dash=None):
    xa, ya = ax
    fig.add_trace(go.Scatter(x=col(data, 0), y=col(data, 1), mode="lines",
                             line=dict(color=color, width=width, dash=dash),
                             xaxis=xa, yaxis=ya, showlegend=False, hoverinfo="skip"))

def add_counts(data, ax, color):
    xa, ya = ax
    fig.add_trace(go.Scatter(x=col(data, 0), y=col(data, 1), mode="markers",
                             marker=dict(symbol="circle-open", size=8, color=color, line=dict(width=1.6, color=color)),
                             error_y=dict(type="data", array=col(data, 2), color=color, thickness=1.6, width=0),
                             xaxis=xa, yaxis=ya, showlegend=False, hoverinfo="skip"))

def add_ratio(data, ax, color):
    xa, ya = ax
    fig.add_trace(go.Scatter(x=col(data, 0), y=col(data, 1), mode="markers",
                             marker=dict(symbol="circle", size=5, color=color),
                             error_y=dict(type="data", array=col(data, 2), color=color, thickness=1.6, width=0),
                             xaxis=xa, yaxis=ya, showlegend=False, hoverinfo="skip"))

AX = {("L", "top"): ("x", "y"), ("L", "mid"): ("x2", "y2"), ("L", "bot"): ("x3", "y3"),
      ("R", "top"): ("x4", "y4"), ("R", "mid"): ("x5", "y5"), ("R", "bot"): ("x6", "y6")}

models = {
    "L": (apec, red_left, nthcomp_left, relx_dash_left, relx_dot_left, relx_left, black_left),
    "R": (apec, red_right, nthcomp_right, relx_dash_right, relx_dot_right, relx_right, black_right),
}
for c, (ap, rd, nth, rdash, rdot, rsol, blk) in models.items():
    ax = AX[(c, "top")]
    add_line(ap, ax, C_APEC, 2.6)
    add_line(nth, ax, C_NTH, 2.6)
    add_line(rdash, ax, C_BLUE, 3, "9px,5px")
    add_line(rdot, ax, C_BLUE, 3, "2px,5px")
    add_line(rsol, ax, C_BLUE, 3)
    add_line(rd, ax, C_RED, 2.6)
    add_line(blk, ax, "black", 3)

    axm = AX[(c, "mid")]
    add_counts(mos_counts, axm, C_MOS)
    add_counts(pn_counts, axm, C_PN)
    add_counts(fpmb_counts, axm, C_FPMB)
    add_counts(fpma_counts, axm, C_FPMA)
    add_line(pn_model, axm, "black", 2)
    add_line(mos_model, axm, "black", 2)
    add_line(fpm_model, axm, "black", 2.4)

    axb = AX[(c, "bot")]
    add_ratio(mos_ratio, axb, C_MOS)
    add_ratio(pn_ratio, axb, C_PN)
    add_ratio(fpmb_ratio, axb, C_FPMB)
    add_ratio(fpma_ratio, axb, C_FPMA)

# ------------------------------------------------------------------ axes
tickfont = dict(family=SERIF, size=18, color="black", weight="bold")
layout = dict(width=W, height=H, margin=dict(l=0, r=0, t=0, b=0), paper_bgcolor="white",
              plot_bgcolor="white", showlegend=False)

def minor_log(lo, hi):
    return [k * 10.0 ** n for n in range(lo, hi) for k in range(2, 10)]

shapes = []
annotations = []
for (c, r), (xa, ya) in AX.items():
    xn = xa.replace("x", "xaxis")
    yn = ya.replace("y", "yaxis")
    x0, x1 = COLS[c]
    y0, y1 = ROWS[r]
    layout[xn] = dict(type="log", domain=[fx(x0), min(1.0, fx(x1))], range=XR[c], anchor=ya,
                      showline=True, linecolor="black", linewidth=1.5, mirror="ticks",
                      ticks="inside", ticklen=7, tickwidth=1.3, tickcolor="black",
                      tickvals=x_tick_vals, ticktext=x_tick_text, showticklabels=(r == "bot"),
                      tickfont=tickfont, showgrid=False, zeroline=False,
                      minor=dict(tickvals=[0.4, 0.6, 0.7, 0.8, 0.9, 3, 4, 6, 7, 8, 9, 30, 40, 60, 70],
                                 ticks="inside", ticklen=7, tickwidth=1.3, tickcolor="black", showgrid=False))
    ydom = [fy(y1), fy(y0)]
    if r == "top":
        layout[yn] = dict(type="log", range=[-6.522, -1.299], tickvals=top_tick_vals, ticktext=top_tick_text,
                          minor=dict(tickvals=minor_log(-7, -1), ticks="inside", ticklen=6, tickwidth=1.2,
                                     tickcolor="black", showgrid=False))
    elif r == "mid":
        layout[yn] = dict(type="log", range=[-5.017, -0.697], tickvals=mid_tick_vals, ticktext=mid_tick_text,
                          minor=dict(tickvals=minor_log(-6, 0), ticks="inside", ticklen=6, tickwidth=1.2,
                                     tickcolor="black", showgrid=False))
    else:
        layout[yn] = dict(type="linear", range=[-0.014, 2.005], tickvals=ratio_tick_vals, ticktext=ratio_tick_text,
                          minor=dict(dtick=0.1, tick0=0, ticks="inside", ticklen=5, tickwidth=1.2,
                                     tickcolor="black", showgrid=False))
    layout[yn].update(domain=ydom, anchor=xa, showline=True, linecolor="black", linewidth=1.5,
                      mirror="ticks", ticks="inside", ticklen=(9 if r == "bot" else 13), tickwidth=1.3,
                      tickcolor="black", tickfont=tickfont, showgrid=False, zeroline=False,
                      ticklabelstandoff=4)
    # longer ticks at 1 and 10 keV on the lower and upper frame edges
    h = y1 - y0
    for xv in (1, 10):
        for yb, yt in ((0, 13 / h), (1, 1 - 13 / h)):
            shapes.append(dict(type="line", xref=xa, yref=ya + " domain", x0=xv, x1=xv, y0=yb, y1=yt,
                               line=dict(color="black", width=1.3)))
    if r == "bot":
        shapes.append(dict(type="line", xref=xa + " domain", yref=ya, x0=0, x1=1, y0=1, y1=1,
                           line=dict(color="#777777", width=1.6, dash="dash"), layer="below"))
        lab_x = x0 - 8
        annotations.append(dict(text="2", x=fx(lab_x), y=fy(685), xref="paper", yref="paper",
                                xanchor="right", yanchor="middle", showarrow=False, font=tickfont))
        annotations.append(dict(text="0", x=fx(lab_x), y=fy(793), xref="paper", yref="paper",
                                xanchor="right", yanchor="middle", showarrow=False, font=tickfont))
        annotations.append(dict(text="Energy (keV)", x=fx(352 if c == "L" else 919),
                                y=fy(843), xref="paper", yref="paper", xanchor="center", yanchor="middle",
                                showarrow=False, font=dict(family=SERIF, size=21, color="#222222")))
    if r == "mid":
        annotations.append(dict(text="10<sup>-5</sup>", x=fx(x0 - 8), y=fy(660), xref="paper", yref="paper",
                                xanchor="right", yanchor="middle", showarrow=False, font=tickfont))

# legend-like texts in the top panels
def mono(color):
    return dict(family=MONO, size=19, color=color)

top_labels = {
    "L": ("apec + nthComp + xillver + relxilllpCp", 108),
    "R": ("apec + nthComp + xillver+ relxilllpAlpha", 676),
}
for c, (title, xl) in top_labels.items():
    for txt, color, yp in ((title, "#222222", 24), ("relxilllpAlpha", C_BLUE, 43), ("xillver", C_RED, 63),
                           ("nthComp", C_NTH, 84), ("apec", C_APEC, 100)):
        annotations.append(dict(text=txt, x=fx(xl), y=fy(yp), xref="paper", yref="paper", xanchor="left",
                                yanchor="middle", showarrow=False, font=mono(color)))

for txt, color, yp in (("PN", C_PN, 596), ("MOS", C_MOS, 614), ("FPMA", C_FPMA, 632), ("FPMB", C_FPMB, 651)):
    annotations.append(dict(text=txt, x=fx(122), y=fy(yp), xref="paper", yref="paper", xanchor="left",
                            yanchor="middle", showarrow=False, font=dict(family=SERIF, size=22, color=color)))

for txt, xc in (("<b><i>χ</i><sup>2</sup>/<i>DOF</i> = 531/461 = 1.15</b>", 283),
                ("<b><i>χ</i><sup>2</sup>/<i>DOF</i> = 527/462 = 1.14</b>", 850)):
    annotations.append(dict(text=txt, x=fx(xc), y=fy(777), xref="paper", yref="paper", xanchor="center",
                            yanchor="middle", showarrow=False, font=dict(family=SERIF, size=20, color="#222222")))

ytitle_font = dict(family=SERIF, size=21, color="#222222")
for txt, xc, yc in (("<i>F</i><sub>E,Ph</sub> (s<sup>-1</sup>cm<sup>-2</sup>keV<sup>-1</sup>)", 29, 211),
                    ("Counts s<sup>-1</sup>cm<sup>-2</sup>keV<sup>-1</sup>", 25, 540),
                    ("Ratio", 25, 737)):
    annotations.append(dict(text=txt, x=fx(xc), y=fy(yc), xref="paper", yref="paper", xanchor="center",
                            yanchor="middle", textangle=-90, showarrow=False, font=ytitle_font))

layout["shapes"] = shapes
layout["annotations"] = annotations
fig.update_layout(**layout)
fig.write_html("out.html")
